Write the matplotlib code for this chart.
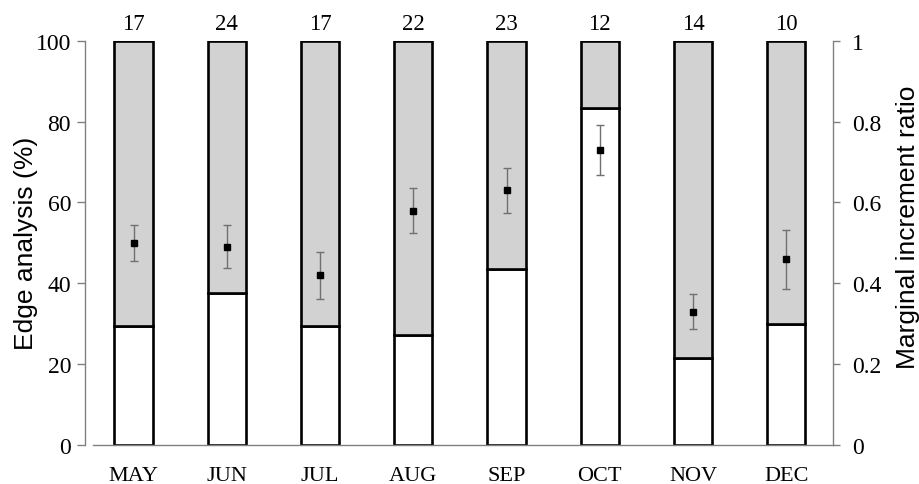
import numpy as np
import matplotlib
matplotlib.use("Agg")
import matplotlib.pyplot as plt
from matplotlib.ticker import FuncFormatter

# monthly samples
months = ["MAY", "JUN", "JUL", "AUG", "SEP", "OCT", "NOV", "DEC"]
n_samples = [17, 24, 17, 22, 23, 12, 14, 10]
# share of otoliths with opaque edge (%), rest is translucent
opaque_pct = [29.4, 37.5, 29.4, 27.3, 43.5, 83.3, 21.4, 30.0]
# marginal increment ratio, mean and error
mir_mean = [0.50, 0.49, 0.42, 0.58, 0.63, 0.73, 0.33, 0.46]
mir_err = [0.045, 0.053, 0.058, 0.056, 0.056, 0.061, 0.043, 0.073]

SERIF = "Liberation Serif"
SANS = "Liberation Sans"
GREY_AX = "#808080"

fig = plt.figure(figsize=(9.2, 4.85), dpi=100)
ax = fig.add_axes([0.0924, 0.0804, 0.8130, 0.8336])
ax2 = ax.twinx()

x = np.arange(len(months))
translucent = [100 - v for v in opaque_pct]

ax.bar(x, opaque_pct, width=0.41, color="white", edgecolor="black", linewidth=1.9, zorder=2)
ax.bar(x, translucent, bottom=opaque_pct, width=0.41, color="#d2d2d2",
       edgecolor="black", linewidth=1.9, zorder=2)

for xi, n in zip(x, n_samples):
    ax.annotate(str(n), (xi, 100), xytext=(0, 8.5), textcoords="offset points",
                ha="center", va="baseline", fontsize=16.5, family=SERIF)

ax2.errorbar(x, mir_mean, yerr=mir_err, fmt="s", color="black", markersize=4.5,
             ecolor="#707070", elinewidth=1.0, capsize=3, capthick=1.0, zorder=3)

ax.set_xlim(-0.52, 7.5)
ax.set_ylim(0, 100)
ax2.set_ylim(0, 1)

ax.set_xticks(x, months)
ax.set_yticks(np.arange(0, 101, 20))
ax2.set_yticks(np.arange(0, 1.01, 0.2))
ax2.yaxis.set_major_formatter(FuncFormatter(lambda v, _: f"{v:g}"))

ax.tick_params(axis="x", length=0, pad=15, labelsize=16)
ax.tick_params(axis="y", direction="out", length=5.5, width=1, color=GREY_AX,
               pad=4.5, labelsize=17)
ax2.tick_params(axis="y", direction="out", length=5, width=1, color=GREY_AX,
                pad=9, labelsize=17)
for lab in ax.get_xticklabels() + ax.get_yticklabels() + ax2.get_yticklabels():
    lab.set_family(SERIF)

for a in (ax, ax2):
    a.spines["top"].set_visible(False)
    for side in ("left", "right", "bottom"):
        a.spines[side].set_color(GREY_AX)
        a.spines[side].set_linewidth(1)
ax.spines["right"].set_visible(False)
ax2.spines["left"].set_visible(False)
ax2.spines["bottom"].set_visible(False)
ax.spines["bottom"].set_bounds(-0.43, 7.5)

ax.set_ylabel("Edge analysis (%)", family=SANS, fontsize=19, va="center")
ax.yaxis.set_label_coords(-0.079, 0.5)
ax2.set_ylabel("Marginal increment ratio", family=SANS, fontsize=19, va="center")
ax2.yaxis.set_label_coords(1.100, 0.54)

fig.savefig("out.png", dpi=100)
